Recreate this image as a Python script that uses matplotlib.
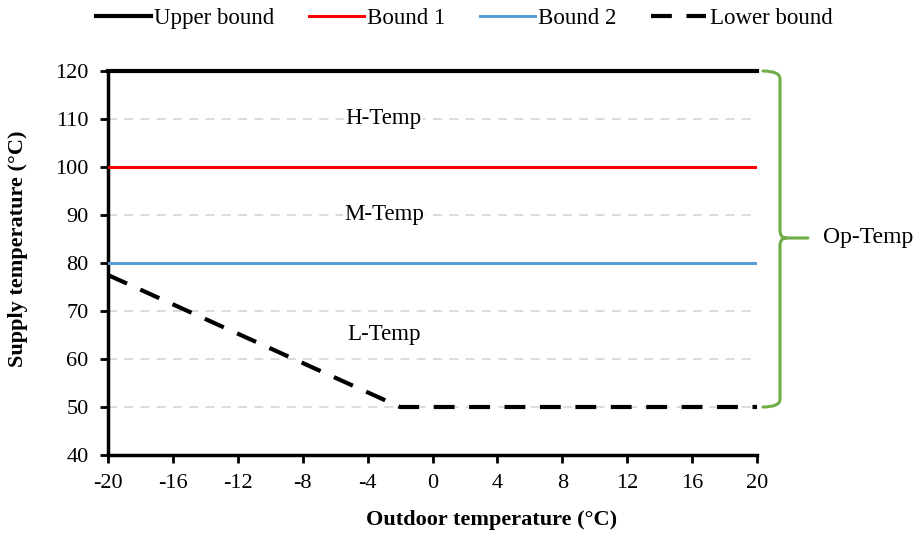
import numpy as np
import matplotlib
matplotlib.use("Agg")
import matplotlib.pyplot as plt
from matplotlib.path import Path
from matplotlib.patches import PathPatch

plt.rcParams["font.family"] = ["Liberation Serif", "DejaVu Serif"]
plt.rcParams["axes.unicode_minus"] = False

# ── data ──────────────────────────────────────────────────────────────────────
x_span      = [-20, 20]
upper_bound = [120, 120]
bound1      = [100, 100]
bound2      = [80, 80]
lower_x     = [-20, -2, 20]
lower_y     = [77.5, 50, 50]

zone_labels = ["H-Temp", "M-Temp", "L-Temp"]
zone_y      = [110, 90, 65]
zone_x      = -3

grid_y = [50, 60, 70, 90, 110]
xticks = np.arange(-20, 21, 4)
yticks = np.arange(40, 121, 10)

GREEN = "#70AD47"

# ── figure ────────────────────────────────────────────────────────────────────
fig = plt.figure(figsize=(9.19, 5.34), dpi=100)
ax = fig.add_axes([108/919, 1-455/534, (757-108)/919, (455-71)/534])

for y in grid_y:
    ax.axhline(y, color="#d9d9d9", lw=1.3, ls=(0, (5, 4)), zorder=1)

ax.plot(x_span, upper_bound, color="black", lw=3, label="Upper bound", zorder=3, clip_on=False)
ax.plot(x_span, bound1, color="#ff0000", lw=2.2, label="Bound 1", zorder=3)
ax.plot(x_span, bound2, color="#5b9bd5", lw=2.2, label="Bound 2", zorder=3)
ax.plot(lower_x, lower_y, color="black", lw=3, ls=(0, (5, 3.5)), label="Lower bound", zorder=3)

for lab, y in zip(zone_labels, zone_y):
    ax.text(zone_x, y, lab, ha="center", va="center", fontsize=16.5,
            bbox=dict(fc="white", ec="none", pad=1))

ax.set_xlim(-20, 20)
ax.set_ylim(40, 120)
ax.set_xticks(xticks)
ax.set_yticks(yticks)
ax.tick_params(labelsize=16, width=2, length=6, direction="out", pad=8)
for s in ["top", "right"]:
    ax.spines[s].set_visible(False)
for s in ["left", "bottom"]:
    ax.spines[s].set_linewidth(2.5)

ax.set_xlabel("Outdoor temperature (\u00b0C)", fontsize=16, fontweight="bold")
ax.set_ylabel("Supply temperature (\u00b0C)", fontsize=16, fontweight="bold")
ax.xaxis.set_label_coords((492 - 108) / 649, (455 - 520) / 384)
ax.yaxis.set_label_coords((18 - 108) / 649, (455 - 249) / 384)
ax.xaxis.label.set_va("center")
ax.yaxis.label.set_va("center")

fig.legend(loc="center", bbox_to_anchor=(0.505, 0.966), ncol=4, frameon=False,
           fontsize=16.5, handlelength=2.4, columnspacing=1.5, handletextpad=0.15,
           borderpad=0, borderaxespad=0)

# ── curly brace (Op-Temp), drawn in pixel coordinates ─────────────────────────
def px(xp, yp):
    return (xp / 919, 1 - yp / 534)

ytop, ybot, ytip = 71, 407, 238
xs, xv, xt = 763, 780, 808
r = 8
verts = [px(xs, ytop), px(xv, ytop), px(xv, ytop + r),
         px(xv, ytip - r), px(xv, ytip), px(xv + 6, ytip), px(xt, ytip),
         px(xv + 6, ytip), px(xv, ytip), px(xv, ytip + r),
         px(xv, ybot - r), px(xv, ybot), px(xs, ybot)]
codes = [Path.MOVETO, Path.CURVE3, Path.CURVE3,
         Path.LINETO, Path.CURVE3, Path.CURVE3, Path.LINETO,
         Path.MOVETO, Path.CURVE3, Path.CURVE3,
         Path.LINETO, Path.CURVE3, Path.CURVE3]
fig.add_artist(PathPatch(Path(verts, codes), fc="none", ec=GREEN, lw=2.2,
                         transform=fig.transFigure, capstyle="round", joinstyle="round"))
fig.text(823 / 919, 1 - ytip / 534, "Op-Temp", fontsize=17, va="center", ha="left")

fig.savefig("out.png", dpi=100)
